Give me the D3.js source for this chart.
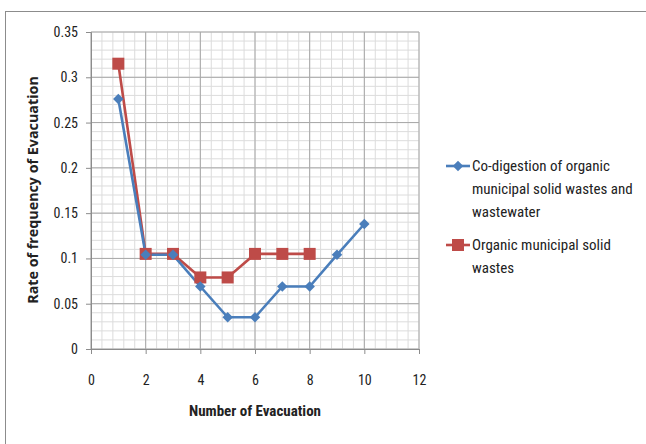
<!DOCTYPE html>
<html>
<head>
<meta charset="utf-8">
<script src="https://cdn.jsdelivr.net/npm/d3@7"></script>
<style>
  html, body { margin: 0; padding: 0; background: #fff; }
  svg text { font-family: "Liberation Sans Narrow", "Roboto Condensed", "Open Sans", sans-serif; fill: #222; }
</style>
</head>
<body>
<svg id="chart" width="646" height="444"></svg>
<script>
// Evacuation counts and rates for each digestion setup
const evacuations = [1, 2, 3, 4, 5, 6, 7, 8, 9, 10];
const coDigestion = [0.276, 0.104, 0.104, 0.069, 0.035, 0.035, 0.069, 0.069, 0.104, 0.138];
const organicOnly = [0.315, 0.105, 0.105, 0.079, 0.079, 0.105, 0.105, 0.105];
const xTicks = [0, 2, 4, 6, 8, 10, 12];
const yTicks = [0, 0.05, 0.1, 0.15, 0.2, 0.25, 0.3, 0.35];
const seriesNames = [
  ["Co-digestion of organic", "municipal solid wastes and", "wastewater"],
  ["Organic municipal solid", "wastes"]
];

const svg = d3.select("#chart");

// outer frame
svg.append("rect").attr("x", 5.5).attr("y", 11.5).attr("width", 660).attr("height", 460)
  .attr("fill", "none").attr("stroke", "#8c8c8c").attr("stroke-width", 1);

const x = d3.scaleLinear().domain([0, 12]).range([91, 419]);
const y = d3.scaleLinear().domain([0, 0.35]).range([349, 32]);

const grid = svg.append("g");
// minor grid
d3.range(0, 12.001, 0.4).forEach(v => {
  grid.append("line").attr("x1", x(v)).attr("x2", x(v)).attr("y1", y(0)).attr("y2", y(0.35))
    .attr("stroke", "#dcdcdc").attr("stroke-width", 1);
});
d3.range(0, 0.3501, 0.01).forEach(v => {
  grid.append("line").attr("x1", x(0)).attr("x2", x(12)).attr("y1", y(v)).attr("y2", y(v))
    .attr("stroke", "#dcdcdc").attr("stroke-width", 1);
});
// major grid
xTicks.forEach(v => {
  grid.append("line").attr("x1", x(v)).attr("x2", x(v)).attr("y1", y(0)).attr("y2", y(0.35))
    .attr("stroke", "#a8a8a8").attr("stroke-width", 1);
});
yTicks.forEach(v => {
  grid.append("line").attr("x1", x(0)).attr("x2", x(12)).attr("y1", y(v)).attr("y2", y(v))
    .attr("stroke", "#a8a8a8").attr("stroke-width", 1);
});

// axes
const xAxis = svg.append("g").attr("transform", `translate(0,${y(0)})`)
  .call(d3.axisBottom(x).tickValues(xTicks).tickSize(5).tickPadding(21).tickFormat(d3.format("d")));
const yAxis = svg.append("g").attr("transform", `translate(${x(0)},0)`)
  .call(d3.axisLeft(y).tickValues(yTicks).tickSize(5).tickPadding(8).tickFormat(d => d === 0 ? "0" : String(+d.toFixed(2))));
[xAxis, yAxis].forEach(a => {
  a.select(".domain").attr("stroke", "#8c8c8c");
  a.selectAll(".tick line").attr("stroke", "#8c8c8c");
  a.selectAll("text").style("font-size", "14px").attr("fill", "#222");
});

// axis titles
svg.append("text").attr("x", 255).attr("y", 416).attr("text-anchor", "middle")
  .style("font-size", "15px").style("font-weight", "bold").text("Number of Evacuation");
svg.append("text").attr("transform", "translate(38,190) rotate(-90)").attr("text-anchor", "middle")
  .style("font-family", "'Open Sans', sans-serif")
  .style("font-size", "14.3px").style("font-weight", "bold").text("Rate of frequency of Evacuation");

const line = d3.line().x(d => x(d[0])).y(d => y(d[1]));
const blue = "#4a7ebb", red = "#be4b48";
const blueData = evacuations.map((e, i) => [e, coDigestion[i]]);
const redData = evacuations.slice(0, organicOnly.length).map((e, i) => [e, organicOnly[i]]);

svg.append("path").datum(redData).attr("d", line).attr("fill", "none").attr("stroke", red).attr("stroke-width", 2.6);
svg.append("path").datum(blueData).attr("d", line).attr("fill", "none").attr("stroke", blue).attr("stroke-width", 2.6);

svg.selectAll(".sq").data(redData).enter().append("rect")
  .attr("x", d => x(d[0]) - 6).attr("y", d => y(d[1]) - 6).attr("width", 12).attr("height", 12).attr("fill", red);
const diamond = d3.symbol().type(d3.symbolDiamond2).size(70);
svg.selectAll(".dm").data(blueData).enter().append("path")
  .attr("transform", d => `translate(${x(d[0])},${y(d[1])})`).attr("d", diamond).attr("fill", blue);

// legend
const legend = svg.append("g");
const entries = [{ c: blue, y: 166, marker: "d" }, { c: red, y: 245, marker: "s" }];
entries.forEach((en, i) => {
  legend.append("line").attr("x1", 446).attr("x2", 470).attr("y1", en.y).attr("y2", en.y)
    .attr("stroke", en.c).attr("stroke-width", 2.6);
  if (en.marker === "d") {
    legend.append("path").attr("transform", `translate(458,${en.y})`).attr("d", diamond).attr("fill", en.c);
  } else {
    legend.append("rect").attr("x", 452).attr("y", en.y - 6).attr("width", 12).attr("height", 12).attr("fill", en.c);
  }
  seriesNames[i].forEach((t, j) => {
    legend.append("text").attr("x", 472).attr("y", en.y + 23 * j).attr("dy", "0.35em")
      .style("font-size", "15px").attr("fill", "#333").text(t);
  });
});
</script>
</body>
</html>
